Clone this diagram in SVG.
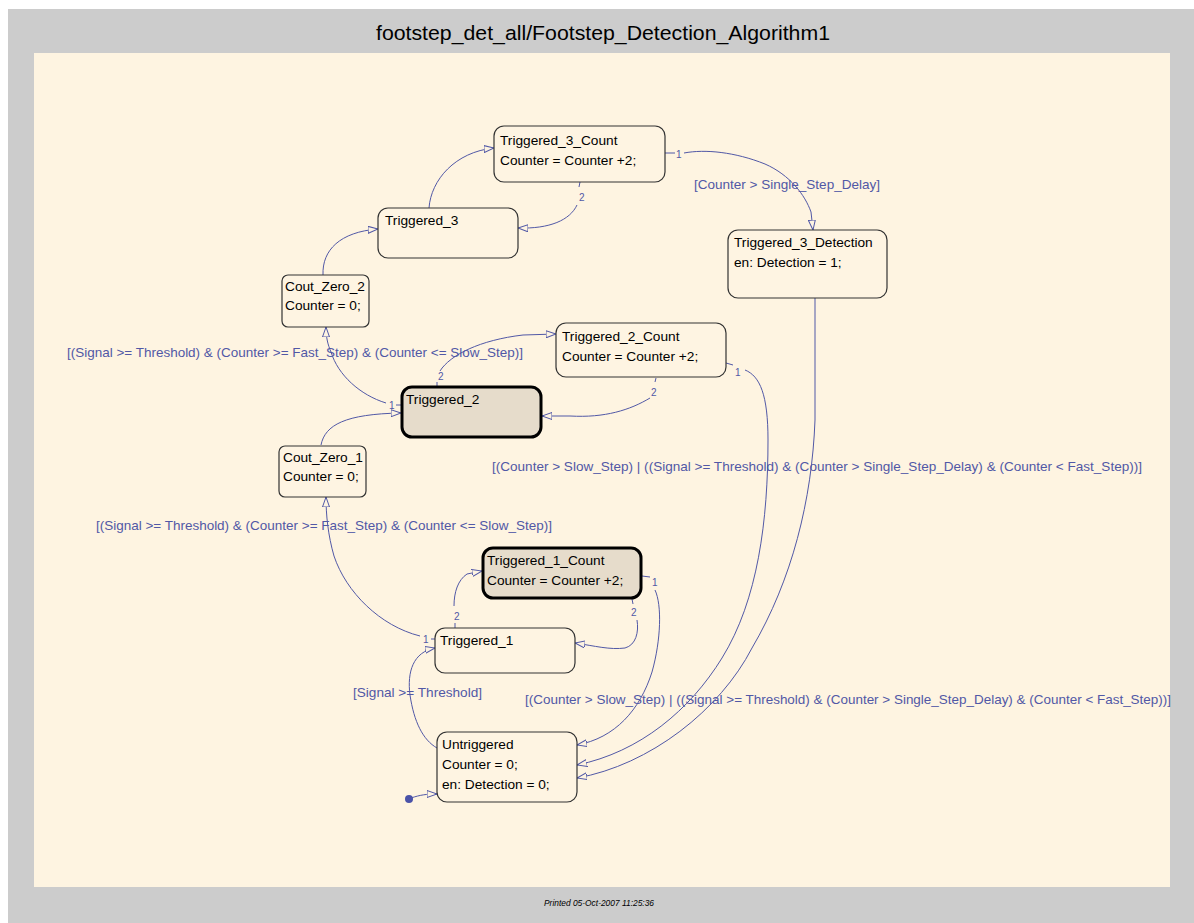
<svg xmlns="http://www.w3.org/2000/svg" width="1194" height="923" viewBox="0 0 1194 923">
<style>
.st{fill:#fef4e2;stroke:#333;stroke-width:1.2}
.act{fill:#e6dccb;stroke:#000;stroke-width:3}
.nt{font-family:"Liberation Sans",Arial,sans-serif;font-size:13.7px;fill:#000}
.lb{font-family:"Liberation Sans",Arial,sans-serif;font-size:13px;fill:#5158a6}
.num{font-family:"Liberation Sans",Arial,sans-serif;font-size:10px;fill:#5158a6}
.c{fill:none;stroke:#5158a6;stroke-width:1}
.ca{fill:none;stroke:#5158a6;stroke-width:1;marker-end:url(#ah)}
</style>
<defs>
<marker id="ah" viewBox="0 0 10 8" refX="10" refY="4" markerWidth="10" markerHeight="8" markerUnits="userSpaceOnUse" orient="auto">
<path d="M0,0.5 L10,4 L0,7.5 Z" fill="#fef4e2" stroke="#5158a6" stroke-width="1"/>
</marker>
</defs>
<rect x="8" y="9" width="1186" height="914" fill="#cccccc"/>
<rect x="34" y="53" width="1136" height="834" fill="#fef4e1"/>
<text x="603" y="40" text-anchor="middle" textLength="454" lengthAdjust="spacingAndGlyphs" style="font-family:'Liberation Sans',Arial,sans-serif;font-size:20.5px;fill:#000">footstep_det_all/Footstep_Detection_Algorithm1</text>
<text x="599" y="906" text-anchor="middle" textLength="110" lengthAdjust="spacingAndGlyphs" style="font-family:'Liberation Sans',Arial,sans-serif;font-size:9px;font-style:italic;fill:#000">Printed 05-Oct-2007 11:25:36</text>

<g id="connectors">
<path class="ca" d="M429,208 C431,180 455,152 494,148"/>
<path class="c" d="M580,182 L579,187"/>
<path class="ca" d="M577,205 C570,220 550,229 518,228"/>
<path class="c" d="M665,153 L675,153"/>
<path class="ca" d="M684,153 C705,149 735,152 765,164 C790,175 805,195 811,212 L813,230"/>
<path class="ca" d="M323,275 C322,250 340,232 378,229"/>
<path class="c" d="M401,405 L396,405"/>
<path class="ca" d="M386,403 C360,395 338,375 331,352 C328,345 326,338 326,327"/>
<path class="c" d="M437,387 L437,382"/>
<path class="ca" d="M440,371 C450,355 480,340 523,335 L556,334"/>
<path class="c" d="M656,378 L655,382"/>
<path class="ca" d="M650,398 C630,410 605,418 570,416 L542,416"/>
<path class="c" d="M726,363 L733,365"/>
<path class="ca" d="M745,370 C760,376 768,395 768,440 C768,520 758,600 722,658 C690,710 640,752 577,765"/>
<path class="ca" d="M815,298 L815,420 C812,500 792,580 752,648 C720,710 650,765 577,778"/>
<path class="ca" d="M321,445 C325,425 345,414 401,413"/>
<path class="c" d="M435,639 L431,639"/>
<path class="ca" d="M420,636 C380,626 346,592 334,556 C328,535 326,515 326,497"/>
<path class="c" d="M455,628 L455,623"/>
<path class="ca" d="M454,606 C454,592 458,580 467,574 L482,571"/>
<path class="c" d="M632,599 L633,604"/>
<path class="ca" d="M637,620 C639,632 636,645 625,648 C610,650 595,646 575,643"/>
<path class="c" d="M642,576 L650,577"/>
<path class="ca" d="M655,590 C662,605 661,640 652,672 C640,710 615,738 577,745"/>
<path class="ca" d="M437,748 C423,740 414,722 410,695 C407,672 413,652 435,648"/>
<circle cx="409" cy="799" r="4" fill="#4a52a8"/>
<path class="ca" d="M411,798 C420,795 426,794 437,794"/>
<text class="num" x="676" y="158">1</text>
<text class="num" x="579" y="201">2</text>
<text class="num" x="389" y="409">1</text>
<text class="num" x="438" y="380">2</text>
<text class="num" x="651" y="396">2</text>
<text class="num" x="735" y="376">1</text>
<text class="num" x="423" y="643">1</text>
<text class="num" x="454" y="620">2</text>
<text class="num" x="631" y="616">2</text>
<text class="num" x="652" y="586">1</text>
<text class="lb" x="694" y="189" textLength="186" lengthAdjust="spacingAndGlyphs">[Counter &gt; Single_Step_Delay]</text>
<text class="lb" x="67" y="357" textLength="456" lengthAdjust="spacingAndGlyphs">[(Signal &gt;= Threshold) &amp; (Counter &gt;= Fast_Step) &amp; (Counter &lt;= Slow_Step)]</text>
<text class="lb" x="96" y="530" textLength="456" lengthAdjust="spacingAndGlyphs">[(Signal &gt;= Threshold) &amp; (Counter &gt;= Fast_Step) &amp; (Counter &lt;= Slow_Step)]</text>
<text class="lb" x="492" y="471" textLength="650" lengthAdjust="spacingAndGlyphs">[(Counter &gt; Slow_Step) | ((Signal &gt;= Threshold) &amp; (Counter &gt; Single_Step_Delay) &amp; (Counter &lt; Fast_Step))]</text>
<text class="lb" x="525" y="704" textLength="646" lengthAdjust="spacingAndGlyphs">[(Counter &gt; Slow_Step) | ((Signal &gt;= Threshold) &amp; (Counter &gt; Single_Step_Delay) &amp; (Counter &lt; Fast_Step))]</text>
<text class="lb" x="353" y="697" textLength="129" lengthAdjust="spacingAndGlyphs">[Signal &gt;= Threshold]</text>
</g>

<g id="Triggered_3_Count">
<rect class="st" x="494" y="126" width="171" height="56" rx="10"/>
<text class="nt" x="500" y="145">Triggered_3_Count</text>
<text class="nt" x="500" y="165">Counter = Counter +2;</text>
</g>
<g id="Triggered_3">
<rect class="st" x="378" y="208" width="140" height="50" rx="10"/>
<text class="nt" x="385" y="225">Triggered_3</text>
</g>
<g id="Triggered_3_Detection">
<rect class="st" x="728" y="230" width="159" height="68" rx="10"/>
<text class="nt" x="734" y="247">Triggered_3_Detection</text>
<text class="nt" x="734" y="267">en: Detection = 1;</text>
</g>
<g id="Cout_Zero_2">
<rect class="st" x="282" y="275" width="87" height="52" rx="6"/>
<text class="nt" x="285" y="291">Cout_Zero_2</text>
<text class="nt" x="285" y="310">Counter = 0;</text>
</g>
<g id="Triggered_2_Count">
<rect class="st" x="556" y="323" width="170" height="54" rx="10"/>
<text class="nt" x="562" y="341">Triggered_2_Count</text>
<text class="nt" x="562" y="361">Counter = Counter +2;</text>
</g>
<g id="Triggered_2">
<rect class="act" x="402" y="387" width="139" height="50" rx="10"/>
<text class="nt" x="406" y="404">Triggered_2</text>
</g>
<g id="Cout_Zero_1">
<rect class="st" x="279" y="446" width="87" height="51" rx="6"/>
<text class="nt" x="283" y="462">Cout_Zero_1</text>
<text class="nt" x="283" y="481">Counter = 0;</text>
</g>
<g id="Triggered_1_Count">
<rect class="act" x="483" y="548" width="158" height="50" rx="10"/>
<text class="nt" x="487" y="565">Triggered_1_Count</text>
<text class="nt" x="487" y="585">Counter = Counter +2;</text>
</g>
<g id="Triggered_1">
<rect class="st" x="435" y="628" width="140" height="45" rx="10"/>
<text class="nt" x="440" y="645">Triggered_1</text>
</g>
<g id="Untriggered">
<rect class="st" x="437" y="732" width="140" height="70" rx="10"/>
<text class="nt" x="442" y="749">Untriggered</text>
<text class="nt" x="442" y="769">Counter = 0;</text>
<text class="nt" x="442" y="789">en: Detection = 0;</text>
</g>
</svg>
